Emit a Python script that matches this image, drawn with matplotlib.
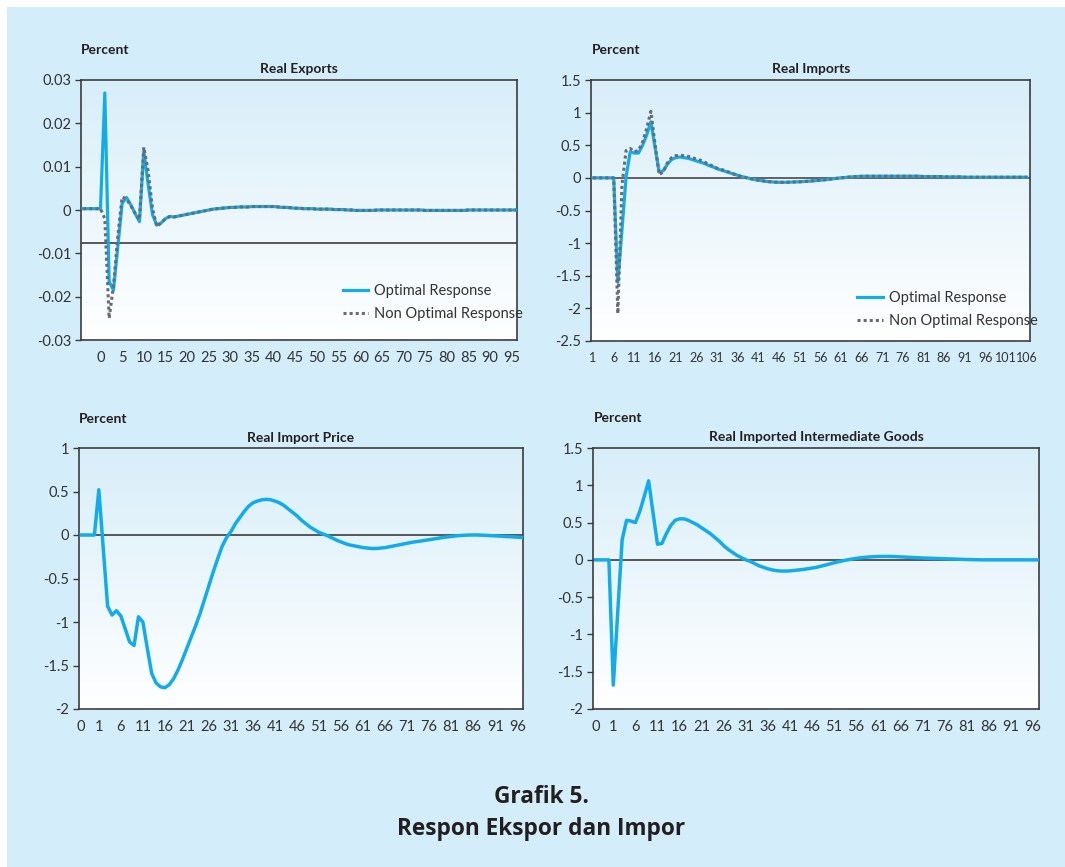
import numpy as np
import matplotlib
matplotlib.use("Agg")
import matplotlib.pyplot as plt
from matplotlib.colors import LinearSegmentedColormap
from matplotlib.patches import Rectangle

plt.rcParams['font.family'] = ['Lato', 'DejaVu Sans']

W, H = 1065, 867

# ---- data: impulse responses, in percent ----
# Real Exports, periods -4..96
exports_x = np.arange(-4, 97)
exports_opt = [
    0.0003, 0.0003, 0.0003, 0.0003, 0.0003, 0.027, -0.0165, -0.0185, -0.0085, 0.0015,
    0.0029, 0.0012, -0.0008, -0.0027, 0.0135, 0.006, -0.001, -0.0035, -0.003, -0.002,
    -0.0015, -0.0016, -0.0014, -0.0012, -0.001, -0.0008, -0.0006, -0.0004, -0.0002, 0.0,
    0.0002, 0.0003, 0.0004, 0.0005, 0.0006, 0.0006, 0.0007, 0.0007, 0.0007, 0.0008,
    0.0008, 0.0008, 0.0008, 0.0008, 0.0008, 0.0007, 0.0006, 0.0006, 0.0005, 0.0004,
    0.0004, 0.0003, 0.0003, 0.0003, 0.0002, 0.0002, 0.0002, 0.0002, 0.0001, 0.0001,
    0.0001, 0.0, 0.0, -0.0001, -0.0001, -0.0001, -0.0001, -0.0001, 0.0, 0.0,
    0.0, 0.0, 0.0, 0.0, 0.0, 0.0, 0.0, 0.0, 0.0, -0.0001,
    -0.0001, -0.0001, -0.0001, -0.0001, -0.0001, -0.0001, -0.0001, -0.0001, -0.0001, 0.0,
    0.0, 0.0, 0.0, 0.0, 0.0, 0.0, 0.0, 0.0, 0.0, 0.0,
    0.0,
]
exports_nonopt = [
    0.0003, 0.0003, 0.0003, 0.0003, 0.0003, -0.002, -0.025, -0.0175, -0.006, 0.003,
    0.0025, 0.001, -0.0008, -0.0022, 0.0145, 0.009, 0.0005, -0.0038, -0.003, -0.002,
    -0.0015, -0.0016, -0.0014, -0.0012, -0.001, -0.0008, -0.0006, -0.0004, -0.0002, 0.0,
    0.0002, 0.0003, 0.0004, 0.0005, 0.0006, 0.0006, 0.0007, 0.0007, 0.0007, 0.0008,
    0.0008, 0.0008, 0.0008, 0.0008, 0.0008, 0.0007, 0.0006, 0.0006, 0.0005, 0.0004,
    0.0004, 0.0003, 0.0003, 0.0003, 0.0002, 0.0002, 0.0002, 0.0002, 0.0001, 0.0001,
    0.0001, 0.0, 0.0, -0.0001, -0.0001, -0.0001, -0.0001, -0.0001, 0.0, 0.0,
    0.0, 0.0, 0.0, 0.0, 0.0, 0.0, 0.0, 0.0, 0.0, -0.0001,
    -0.0001, -0.0001, -0.0001, -0.0001, -0.0001, -0.0001, -0.0001, -0.0001, -0.0001, 0.0,
    0.0, 0.0, 0.0, 0.0, 0.0, 0.0, 0.0, 0.0, 0.0, 0.0,
    0.0,
]

# Real Imports, periods 1..106
imports_x = np.arange(1, 107)
imports_opt = [
    0.0, 0.0, 0.0, 0.0, 0.0, 0.0, -1.60, -0.80, 0.02, 0.40,
    0.38, 0.38, 0.50, 0.66, 0.86, 0.47, 0.09, 0.11, 0.21, 0.28,
    0.31, 0.32, 0.31, 0.30, 0.28, 0.26, 0.24, 0.22, 0.19, 0.17,
    0.14, 0.12, 0.10, 0.08, 0.06, 0.04, 0.02, 0.005, -0.01, -0.025,
    -0.036, -0.045, -0.055, -0.06, -0.065, -0.068, -0.068, -0.067, -0.065, -0.062,
    -0.06, -0.056, -0.052, -0.047, -0.042, -0.036, -0.03, -0.022, -0.015, -0.007,
    0.0, 0.006, 0.012, 0.017, 0.021, 0.024, 0.025, 0.025, 0.025, 0.025,
    0.025, 0.025, 0.025, 0.025, 0.025, 0.025, 0.025, 0.025, 0.025, 0.025,
    0.02, 0.02, 0.02, 0.02, 0.02, 0.015, 0.015, 0.015, 0.015, 0.015,
    0.01, 0.01, 0.01, 0.01, 0.01, 0.01, 0.01, 0.01, 0.01, 0.01,
    0.01, 0.01, 0.01, 0.01, 0.01, 0.01,
]
imports_nonopt = [
    0.0, 0.0, 0.0, 0.0, 0.0, 0.0, -2.08, -0.10, 0.42, 0.45,
    0.40, 0.42, 0.55, 0.76, 1.02, 0.52, 0.05, 0.09, 0.23, 0.31,
    0.34, 0.345, 0.34, 0.33, 0.31, 0.29, 0.27, 0.24, 0.21, 0.18,
    0.15, 0.13, 0.11, 0.085, 0.06, 0.04, 0.02, 0.005, -0.01, -0.025,
    -0.036, -0.045, -0.055, -0.06, -0.065, -0.068, -0.068, -0.067, -0.065, -0.062,
    -0.06, -0.056, -0.052, -0.047, -0.042, -0.036, -0.03, -0.022, -0.015, -0.007,
    0.0, 0.006, 0.012, 0.017, 0.021, 0.024, 0.025, 0.025, 0.025, 0.025,
    0.025, 0.025, 0.025, 0.025, 0.025, 0.025, 0.025, 0.025, 0.025, 0.025,
    0.02, 0.02, 0.02, 0.02, 0.02, 0.015, 0.015, 0.015, 0.015, 0.015,
    0.01, 0.01, 0.01, 0.01, 0.01, 0.01, 0.01, 0.01, 0.01, 0.01,
    0.01, 0.01, 0.01, 0.01, 0.01, 0.01,
]

# Real Import Price, periods -3..97
price_x = np.arange(-3, 98)
price_opt = [
    0.0, 0.0, 0.0, 0.0, 0.52, -0.15, -0.82, -0.92, -0.87, -0.93,
    -1.08, -1.23, -1.27, -0.94, -1.00, -1.30, -1.59, -1.70, -1.745, -1.755,
    -1.72, -1.65, -1.55, -1.43, -1.30, -1.17, -1.04, -0.90, -0.74, -0.58,
    -0.42, -0.27, -0.13, -0.03, 0.04, 0.13, 0.20, 0.27, 0.33, 0.37,
    0.39, 0.405, 0.41, 0.405, 0.39, 0.37, 0.34, 0.30, 0.26, 0.22,
    0.17, 0.13, 0.09, 0.06, 0.03, 0.01, -0.01, -0.035, -0.06, -0.08,
    -0.10, -0.115, -0.125, -0.135, -0.145, -0.15, -0.155, -0.155, -0.15, -0.145,
    -0.135, -0.125, -0.115, -0.105, -0.095, -0.085, -0.077, -0.07, -0.062, -0.054,
    -0.046, -0.038, -0.03, -0.023, -0.017, -0.011, -0.006, -0.003, -0.001, 0.0,
    0.0, -0.002, -0.004, -0.007, -0.01, -0.013, -0.016, -0.019, -0.022, -0.025,
    -0.028,
]

# Real Imported Intermediate Goods, periods -3..97
goods_x = np.arange(-3, 98)
goods_opt = [
    0.0, 0.0, 0.0, 0.0, -1.68, -0.70, 0.27, 0.53, 0.52, 0.50,
    0.65, 0.85, 1.06, 0.63, 0.21, 0.22, 0.35, 0.46, 0.53, 0.55,
    0.55, 0.53, 0.50, 0.47, 0.43, 0.39, 0.35, 0.30, 0.25, 0.19,
    0.14, 0.10, 0.06, 0.03, 0.0, -0.02, -0.05, -0.08, -0.10, -0.12,
    -0.135, -0.145, -0.15, -0.15, -0.148, -0.142, -0.135, -0.128, -0.12, -0.11,
    -0.10, -0.085, -0.07, -0.055, -0.04, -0.025, -0.012, 0.0, 0.01, 0.02,
    0.028, 0.034, 0.039, 0.042, 0.045, 0.046, 0.046, 0.045, 0.043, 0.04,
    0.037, 0.034, 0.031, 0.028, 0.025, 0.023, 0.021, 0.019, 0.017, 0.015,
    0.013, 0.011, 0.009, 0.007, 0.005, 0.003, 0.002, 0.001, 0.0, 0.0,
    0.0, 0.0, 0.0, 0.0, 0.0, 0.0, 0.0, 0.0, 0.0, 0.0,
    0.0,
]

exports_ticks = list(range(0, 96, 5))
imports_ticks = list(range(1, 107, 5))
late_ticks = [-3] + list(range(1, 97, 5))
late_labels = ["0"] + [str(t) for t in range(1, 97, 5)]

# ---- styling ----
BLUE = '#12acea'
GREY = '#6a6b6e'
TXT = '#333333'
FS = 10

fig = plt.figure(figsize=(W / 100, H / 100), dpi=100)
fig.patch.set_facecolor('white')
fig.add_artist(Rectangle((7 / W, 0), 1 - 7 / W, 1 - 7 / H, transform=fig.transFigure,
                         facecolor='#d3eefa', edgecolor='none', zorder=-10))

grad = np.linspace(0, 1, 256).reshape(-1, 1)
bg_cmap = LinearSegmentedColormap.from_list('bg', ['#ffffff', '#d8eef9'])


def panel(l, t, r, b):
    ax = fig.add_axes([l / W, 1 - b / H, (r - l) / W, (b - t) / H])
    ax.imshow(grad, extent=[0, 1, 0, 1], transform=ax.transAxes, origin='lower',
              aspect='auto', cmap=bg_cmap, zorder=0)
    for s in ax.spines.values():
        s.set_color('#3c3c3c')
        s.set_linewidth(1.2)
    ax.tick_params(axis='y', direction='out', length=4, width=1, color='#3c3c3c',
                   labelsize=FS + 0.5, labelcolor=TXT, pad=3)
    ax.tick_params(axis='x', length=0, labelsize=FS + 0.5, labelcolor=TXT, pad=8)
    return ax


def heading(ax, l, t, r, title):
    fig.text(l / W, 1 - t / H, 'Percent', ha='left', va='center', fontsize=FS,
             fontweight='bold', color='#231f20')
    fig.text((l + r) / 2 / W, 1 - (t + 19) / H, title, ha='center', va='center',
             fontsize=FS, fontweight='bold', color='#231f20')


def yfmt(vals):
    out = []
    for v in vals:
        s = ('%g' % round(v, 4))
        out.append('0' if s in ('0', '-0') else s)
    return out


# Real Exports
ax1 = panel(81, 80, 517, 340)
ax1.axhline(-0.0075, color='#3c3c3c', lw=1.2, zorder=2)
ax1.plot(exports_x, exports_opt, color=BLUE, lw=2.3, zorder=3, label='Optimal Response')
ax1.plot(exports_x, exports_nonopt, color=GREY, lw=2.2, ls=(0, (1, 1)), zorder=4,
         label='Non Optimal Response')
ax1.set_xlim(-4.5, 96.2)
ax1.set_ylim(-0.03, 0.03)
yt = np.arange(-0.03, 0.031, 0.01)
ax1.set_yticks(yt)
ax1.set_yticklabels(yfmt(yt))
ax1.set_xticks(exports_ticks)
ax1.set_xticklabels([str(t) for t in exports_ticks])
ax1.legend(loc='upper left', bbox_to_anchor=(0.6, 0.215), frameon=False, fontsize=FS + 0.5,
           handlelength=1.75, handletextpad=0.4, labelspacing=0.6, borderpad=0,
           borderaxespad=0, labelcolor=TXT)
heading(ax1, 81, 50, 517, 'Real Exports')

# Real Imports
ax2 = panel(591, 80, 1030, 341)
ax2.axhline(0, color='#555555', lw=1.3, zorder=2)
ax2.plot(imports_x, imports_opt, color=BLUE, lw=2.3, zorder=3, label='Optimal Response')
ax2.plot(imports_x, imports_nonopt, color=GREY, lw=2.2, ls=(0, (1, 1)), zorder=4,
         label='Non Optimal Response')
ax2.set_xlim(0.5, 106.8)
ax2.set_ylim(-2.5, 1.5)
yt = np.arange(-2.5, 1.51, 0.5)
ax2.set_yticks(yt)
ax2.set_yticklabels(yfmt(yt))
ax2.set_xticks(imports_ticks)
ax2.set_xticklabels([str(t) for t in imports_ticks])
ax2.tick_params(axis='x', labelsize=9)
ax2.legend(loc='upper left', bbox_to_anchor=(0.607, 0.192), frameon=False, fontsize=FS + 0.5,
           handlelength=1.75, handletextpad=0.4, labelspacing=0.6, borderpad=0,
           borderaxespad=0, labelcolor=TXT)
heading(ax2, 592, 50, 1030, 'Real Imports')

# Real Import Price
ax3 = panel(79, 448, 523, 709)
ax3.axhline(0, color='#3c3c3c', lw=1.2, zorder=2)
ax3.plot(price_x, price_opt, color=BLUE, lw=2.5, zorder=3)
ax3.set_xlim(-3.5, 97.3)
ax3.set_ylim(-2, 1)
yt = np.arange(-2, 1.01, 0.5)
ax3.set_yticks(yt)
ax3.set_yticklabels(yfmt(yt))
ax3.set_xticks(late_ticks)
ax3.set_xticklabels(late_labels)
heading(ax3, 79, 419, 523, 'Real Import Price')

# Real Imported Intermediate Goods
ax4 = panel(593, 448, 1039, 709)
ax4.axhline(0, color='#3c3c3c', lw=1.2, zorder=2)
ax4.plot(goods_x, goods_opt, color=BLUE, lw=2.5, zorder=3)
ax4.set_xlim(-3.6, 97.4)
ax4.set_ylim(-2, 1.5)
yt = np.arange(-2, 1.51, 0.5)
ax4.set_yticks(yt)
ax4.set_yticklabels(yfmt(yt))
ax4.set_xticks(late_ticks)
ax4.set_xticklabels(late_labels)
heading(ax4, 594, 418, 1039, 'Real Imported Intermediate Goods')

fig.text(541 / W, 1 - 797 / H, 'Grafik 5.', ha='center', va='center', fontsize=16.3,
         fontweight='bold', color='#231f20', family=['Open Sans', 'DejaVu Sans'])
fig.text(541 / W, 1 - 829 / H, 'Respon Ekspor dan Impor', ha='center', va='center',
         fontsize=16.3, fontweight='bold', color='#231f20', family=['Open Sans', 'DejaVu Sans'])

fig.savefig('out.png', dpi=100)
